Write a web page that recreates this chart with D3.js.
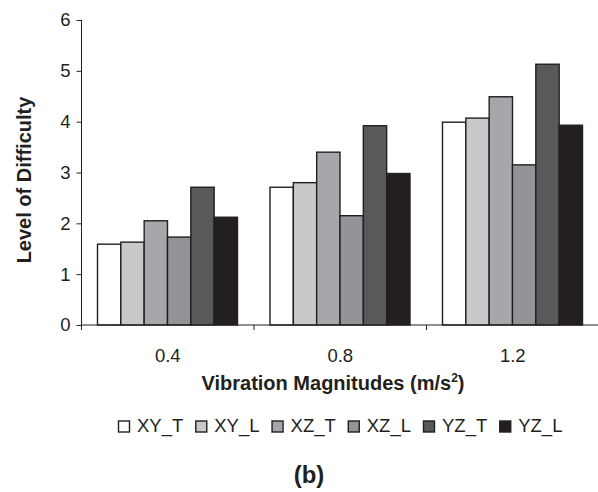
<!DOCTYPE html>
<html>
<head>
<meta charset="utf-8">
<script src="https://cdn.jsdelivr.net/npm/d3@7"></script>
<style>
  html, body { margin: 0; padding: 0; background: #fff; }
  svg { display: block; font-family: Arial, "Liberation Sans", sans-serif; }
</style>
</head>
<body>
<div id="chart"></div>
<script>
// data
const magnitudes = ['0.4', '0.8', '1.2'];
const seriesNames = ['XY_T', 'XY_L', 'XZ_T', 'XZ_L', 'YZ_T', 'YZ_L'];
const seriesColors = ['#ffffff', '#c8c9cb', '#a6a7aa', '#939497', '#58595b', '#231f20'];
const XY_T = [1.59, 2.71, 3.99];
const XY_L = [1.63, 2.80, 4.07];
const XZ_T = [2.05, 3.40, 4.49];
const XZ_L = [1.73, 2.15, 3.15];
const YZ_T = [2.71, 3.92, 5.13];
const YZ_L = [2.12, 2.98, 3.93];
const yTicks = [0, 1, 2, 3, 4, 5, 6];

const seriesValues = [XY_T, XY_L, XZ_T, XZ_L, YZ_T, YZ_L];

const width = 598, height = 492;
const margin = { top: 20, left: 81.5, bottom: 325 };
const ink = '#231f20';

const svg = d3.select('#chart')
  .append('svg')
  .attr('width', width)
  .attr('height', height);

// the group axis runs past the right edge of the picture (it is cropped there)
const x = d3.scaleBand()
  .domain(magnitudes)
  .range([margin.left, margin.left + 3 * 172.5])
  .padding(0);

const xInner = d3.scaleBand()
  .domain(seriesNames)
  .range([16, 156])
  .padding(0);

const y = d3.scaleLinear()
  .domain([0, 6])
  .range([margin.bottom, margin.top]);

// bars
const rows = [];
magnitudes.forEach((m, i) => {
  seriesNames.forEach((s, j) => {
    rows.push({ m: m, s: s, v: seriesValues[j][i], c: seriesColors[j] });
  });
});

svg.append('g')
  .selectAll('rect')
  .data(rows)
  .enter()
  .append('rect')
  .attr('x', d => x(d.m) + xInner(d.s))
  .attr('y', d => y(d.v))
  .attr('width', xInner.bandwidth())
  .attr('height', d => y(0) - y(d.v))
  .attr('fill', d => d.c)
  .attr('stroke', ink)
  .attr('stroke-width', 1.4);

// Y axis
const yAxis = d3.axisLeft(y)
  .tickValues(yTicks)
  .tickFormat(d3.format('d'))
  .tickSize(5)
  .tickPadding(6);

const yg = svg.append('g')
  .attr('transform', `translate(${margin.left},0)`)
  .call(yAxis);
yg.select('.domain').attr('stroke', ink).attr('d', `M0,${margin.top}V${margin.bottom}`);
yg.selectAll('.tick line').attr('stroke', ink);
yg.selectAll('text')
  .attr('font-size', '18.5px')
  .attr('fill', ink)
  .attr('font-family', 'Arial, "Liberation Sans", sans-serif');

// X axis: ticks sit between the groups
const xg = svg.append('g')
  .attr('transform', `translate(0,${margin.bottom})`);
xg.append('line')
  .attr('x1', margin.left)
  .attr('x2', width)
  .attr('stroke', ink)
  .attr('stroke-width', 1);
xg.selectAll('.sep')
  .data(magnitudes)
  .enter()
  .append('line')
  .attr('class', 'sep')
  .attr('x1', d => x(d))
  .attr('x2', d => x(d))
  .attr('y1', 0)
  .attr('y2', 5)
  .attr('stroke', ink);
xg.selectAll('text')
  .data(magnitudes)
  .enter()
  .append('text')
  .attr('x', d => x(d) + x.bandwidth() / 2)
  .attr('y', 36.5)
  .attr('text-anchor', 'middle')
  .attr('font-size', '18.5px')
  .attr('fill', ink)
  .text(d => d);

// axis titles
svg.append('text')
  .attr('x', 333)
  .attr('y', 390)
  .attr('text-anchor', 'middle')
  .attr('font-size', '20px')
  .attr('font-weight', 'bold')
  .attr('fill', ink)
  .html('Vibration Magnitudes (m/s<tspan font-size="12px" dy="-8">2</tspan><tspan dy="8">)</tspan>');

svg.append('text')
  .attr('transform', 'translate(31,180) rotate(-90)')
  .attr('text-anchor', 'middle')
  .attr('font-size', '20px')
  .attr('font-weight', 'bold')
  .attr('fill', ink)
  .text('Level of Difficulty');

// legend
const legend = svg.append('g');
let lx = 118;
seriesNames.forEach((s, j) => {
  legend.append('rect')
    .attr('x', lx + 0.5)
    .attr('y', 421)
    .attr('width', 11)
    .attr('height', 11)
    .attr('fill', seriesColors[j])
    .attr('stroke', ink)
    .attr('stroke-width', 1.4);
  const t = legend.append('text')
    .attr('x', lx + 19)
    .attr('y', 432)
    .attr('font-size', '18.5px')
    .attr('fill', ink)
    .text(s);
  lx += 19 + t.node().getComputedTextLength() + 12;
});

// caption
svg.append('text')
  .attr('x', 309)
  .attr('y', 483)
  .attr('text-anchor', 'middle')
  .attr('font-size', '24px')
  .attr('font-weight', 'bold')
  .attr('fill', ink)
  .text('(b)');
</script>
</body>
</html>
